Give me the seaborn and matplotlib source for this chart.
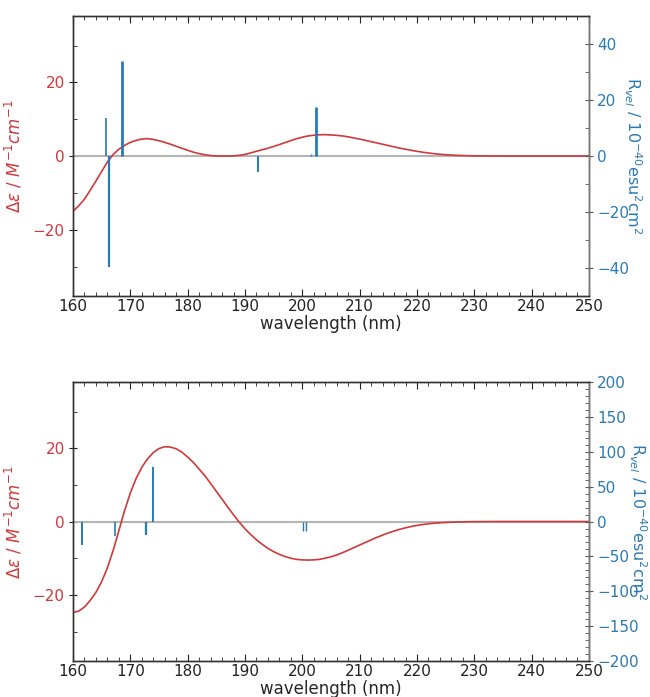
import matplotlib
matplotlib.use("Agg")
import matplotlib.pyplot as plt
from matplotlib.ticker import MultipleLocator
import seaborn as sns
import pandas as pd

sns.set_style("ticks")
plt.rcParams['font.family'] = ['DejaVu Sans']

RED = '#d0393b'
BLUE = '#2a7ab4'

# --- top panel: computed CD curve (Δε) ---
top_wl = [160, 161, 162, 163, 164, 165, 166, 167, 168, 169,
          170, 171, 172, 173, 174, 175, 176, 177, 178, 179,
          180, 181, 182, 183, 184, 185, 186, 187, 188, 189,
          190, 191, 192, 193, 194, 195, 196, 197, 198, 199,
          200, 201, 202, 203, 204, 205, 206, 207, 208, 209,
          210, 211, 212, 213, 214, 215, 216, 217, 218, 219,
          220, 221, 222, 223, 224, 225, 226, 227, 228, 229,
          230, 232, 235, 250]
top_de = [-15.0, -13.5, -11.7, -9.3, -6.8, -4.2, -1.6, 0.4, 1.85, 2.9,
          3.7, 4.25, 4.6, 4.72, 4.5, 4.15, 3.7, 3.2, 2.65, 2.1,
          1.55, 1.05, 0.65, 0.35, 0.12, 0.02, 0.0, 0.0, 0.05, 0.18,
          0.45, 0.85, 1.28, 1.7, 2.12, 2.6, 3.1, 3.65, 4.2, 4.7,
          5.1, 5.45, 5.65, 5.78, 5.8, 5.72, 5.6, 5.45, 5.2, 4.9,
          4.6, 4.25, 3.9, 3.55, 3.2, 2.85, 2.5, 2.15, 1.85, 1.55,
          1.28, 1.03, 0.82, 0.63, 0.48, 0.36, 0.26, 0.18, 0.12, 0.08,
          0.05, 0.02, 0.0, 0.0]
# top panel: rotational strengths (sticks)
top_stick_wl = [165.8, 166.3, 168.5, 192.3, 201.5, 202.3]
top_stick_R = [13.6, -39.5, 34.1, -5.7, 0.6, 17.4]

# --- bottom panel ---
bot_wl = [160, 161, 162, 163, 164, 165, 166, 167, 168, 169,
          170, 171, 172, 173, 174, 175, 176, 177, 178, 179,
          180, 181, 182, 183, 184, 185, 186, 187, 188, 189,
          190, 191, 192, 193, 194, 195, 196, 197, 198, 199,
          200, 201, 202, 203, 204, 205, 206, 207, 208, 209,
          210, 211, 212, 213, 214, 215, 216, 217, 218, 219,
          220, 221, 222, 223, 224, 225, 226, 227, 228, 230,
          233, 250]
bot_de = [-24.8, -24.4, -23.3, -21.5, -19.3, -16.4, -12.6, -7.9, -2.5, 3.0,
          7.8, 11.7, 14.8, 17.1, 18.8, 19.9, 20.4, 20.3, 19.85, 18.9,
          17.6, 16.1, 14.3, 12.5, 10.4, 8.25, 6.1, 3.95, 1.85, -0.15,
          -1.95, -3.55, -4.95, -6.2, -7.3, -8.2, -8.95, -9.55, -10.0, -10.3,
          -10.45, -10.5, -10.45, -10.3, -9.98, -9.6, -9.1, -8.5, -7.8, -7.1,
          -6.4, -5.7, -5.0, -4.3, -3.7, -3.1, -2.6, -2.1, -1.7, -1.35,
          -1.05, -0.8, -0.6, -0.45, -0.33, -0.24, -0.17, -0.12, -0.08, -0.03,
          0.0, 0.0]
bot_stick_wl = [161.5, 167.4, 172.8, 174.0, 200.2, 200.7]
bot_stick_R = [-33.8, -20.5, -18.6, 78.1, -13.8, -13.8]

fig = plt.figure(figsize=(6.5, 6.97), dpi=100)
ax_top = fig.add_axes([0.1123, 0.5753, 0.7938, 0.4017])
ax_bot = fig.add_axes([0.1123, 0.0517, 0.7938, 0.4000])


def style_panel(ax, wl, de, swl, sR, rlim, rmaj, stick_lw, rpad):
    ax.axhline(0, color='#b4b4b4', lw=1.5, zorder=1)
    df = pd.DataFrame({'wl': wl, 'de': de})
    sns.lineplot(data=df, x='wl', y='de', ax=ax, color=RED, lw=1.2, zorder=3)
    ax.set_xlim(160, 250)
    ax.set_ylim(-38, 38)
    ax.xaxis.set_major_locator(MultipleLocator(10))
    ax.xaxis.set_minor_locator(MultipleLocator(2))
    ax.yaxis.set_major_locator(MultipleLocator(20))
    ax.yaxis.set_minor_locator(MultipleLocator(10))
    ax.set_xlabel('wavelength (nm)', fontsize=12, labelpad=1)
    ax.set_ylabel(r'$\Delta\varepsilon$ / $M^{-1}cm^{-1}$', fontsize=12, color=RED, labelpad=6)
    ax.tick_params(axis='x', which='both', direction='in', top=True, bottom=True,
                   labelsize=11, colors='#222222', pad=2)
    ax.tick_params(axis='x', which='major', length=5)
    ax.tick_params(axis='x', which='minor', length=3)
    ax.tick_params(axis='y', which='major', direction='inout', length=6, labelsize=11,
                   labelcolor=RED, color='#222222', pad=3)
    ax.tick_params(axis='y', which='minor', direction='in', length=3, color='#222222')
    for s in ax.spines.values():
        s.set_color('#333333')
        s.set_linewidth(1.0)

    ax2 = ax.twinx()
    ax2.vlines(swl, 0, sR, colors=BLUE, linewidths=stick_lw, zorder=4)
    ax2.set_ylim(-rlim, rlim)
    ax2.yaxis.set_major_locator(MultipleLocator(rmaj))
    ax2.yaxis.set_minor_locator(MultipleLocator(10))
    ax2.tick_params(axis='y', which='major', direction='inout', length=6, labelsize=11,
                    labelcolor=BLUE, color='#555555', pad=3)
    ax2.tick_params(axis='y', which='minor', direction='in', length=3, color='#555555')
    ax2.set_ylabel(r'R$_{vel}$ / 10$^{-40}$esu$^{2}$cm$^{2}$', fontsize=11.5, color=BLUE,
                   rotation=270, labelpad=rpad)
    for s in ax2.spines.values():
        s.set_color('#333333')
        s.set_linewidth(1.0)
    ax2.spines['right'].set_color('#777777')
    return ax2


style_panel(ax_top, top_wl, top_de, top_stick_wl, top_stick_R, 50, 20,
            [1.2, 1.6, 2.0, 1.4, 1.0, 2.0], 10)
style_panel(ax_bot, bot_wl, bot_de, bot_stick_wl, bot_stick_R, 200, 50,
            [1.4, 1.2, 1.6, 1.4, 1.0, 1.0], 7)

fig.savefig('out.png', dpi=100)
